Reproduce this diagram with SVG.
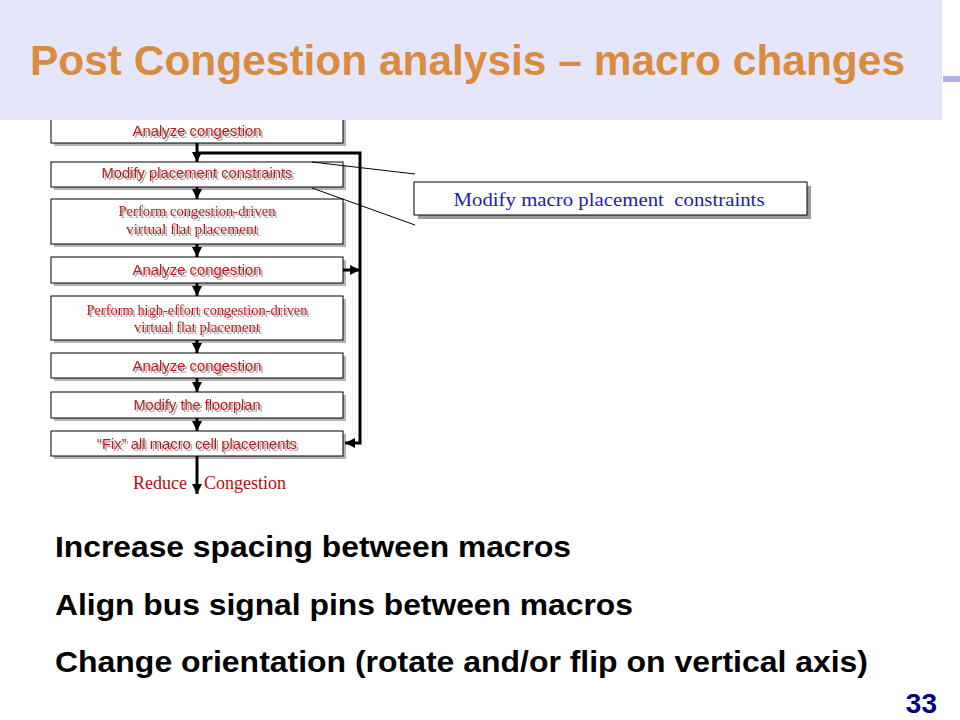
<svg xmlns="http://www.w3.org/2000/svg" width="960" height="720" viewBox="0 0 960 720">
<style>
.box{fill:#ffffff;stroke:#000000;stroke-width:1}
.shd{fill:#b4b4b4}
.t{font-family:"Liberation Sans",Arial,sans-serif;font-size:14.8px;fill:#c01818;text-anchor:middle;filter:url(#tsh)}
.s{font-family:"Liberation Serif","Times New Roman",serif;font-size:14px;fill:#c01818;text-anchor:middle;filter:url(#tsh)}
.arr{stroke:#000000;stroke-width:3;fill:none}
.thin{stroke:#000000;stroke-width:1;fill:none}
.bul{font-family:"Liberation Sans",Arial,sans-serif;font-weight:bold;font-size:30px;fill:#000000}
</style>
<defs>
<marker id="ah" markerUnits="userSpaceOnUse" markerWidth="10" markerHeight="10" viewBox="0 0 10 10" refX="10" refY="5" orient="auto">
<path d="M0,0 L10,5 L0,10 Z" fill="#000000"/>
</marker>
<filter id="tsh" x="-5%" y="-30%" width="110%" height="170%">
<feOffset in="SourceAlpha" dx="2" dy="2" result="o"/>
<feFlood flood-color="#a8a8a8"/>
<feComposite in2="o" operator="in" result="s"/>
<feMerge><feMergeNode in="s"/><feMergeNode in="SourceGraphic"/></feMerge>
</filter>
</defs>
<rect width="960" height="720" fill="#ffffff"/>

<g id="n1">
<rect class="shd" x="54" y="117" width="292" height="29"/>
<rect class="box" x="51" y="114" width="292" height="29"/>
<text class="t" x="197" y="136" textLength="129" lengthAdjust="spacingAndGlyphs">Analyze congestion</text>
</g>
<g id="n2">
<rect class="shd" x="54" y="165" width="292" height="25"/>
<rect class="box" x="51" y="162" width="292" height="25"/>
<text class="t" x="197" y="178" textLength="191" lengthAdjust="spacingAndGlyphs">Modify placement constraints</text>
</g>
<g id="n3">
<rect class="shd" x="54" y="202" width="292" height="45"/>
<rect class="box" x="51" y="199" width="292" height="45"/>
<text class="s" x="197" y="216" textLength="157" lengthAdjust="spacingAndGlyphs">Perform congestion-driven</text>
<text class="s" x="192" y="234" textLength="132" lengthAdjust="spacingAndGlyphs">virtual flat placement</text>
</g>
<g id="n4">
<rect class="shd" x="54" y="260" width="292" height="26"/>
<rect class="box" x="51" y="257" width="292" height="26"/>
<text class="t" x="197" y="275" textLength="129" lengthAdjust="spacingAndGlyphs">Analyze congestion</text>
</g>
<g id="n5">
<rect class="shd" x="54" y="299" width="292" height="44"/>
<rect class="box" x="51" y="296" width="292" height="44"/>
<text class="s" x="197" y="315" textLength="221" lengthAdjust="spacingAndGlyphs">Perform high-effort congestion-driven</text>
<text class="s" x="197" y="332" textLength="126" lengthAdjust="spacingAndGlyphs">virtual flat placement</text>
</g>
<g id="n6">
<rect class="shd" x="54" y="356" width="292" height="25"/>
<rect class="box" x="51" y="353" width="292" height="25"/>
<text class="t" x="197" y="371" textLength="129" lengthAdjust="spacingAndGlyphs">Analyze congestion</text>
</g>
<g id="n7">
<rect class="shd" x="54" y="395" width="292" height="26"/>
<rect class="box" x="51" y="392" width="292" height="26"/>
<text class="t" x="197" y="410" textLength="127" lengthAdjust="spacingAndGlyphs">Modify the floorplan</text>
</g>
<g id="n8">
<rect class="shd" x="54" y="434" width="292" height="25"/>
<rect class="box" x="51" y="431" width="292" height="25"/>
<text class="t" x="197" y="449" textLength="200" lengthAdjust="spacingAndGlyphs">“Fix” all macro cell placements</text>
</g>
<g id="callout">
<rect x="418" y="186" width="393" height="33" fill="#9a9a9a"/>
<rect x="414" y="182" width="393" height="33" fill="#ffffff" stroke="#000000" stroke-width="1"/>
<text x="609" y="206" xml:space="preserve" text-anchor="middle" textLength="311" lengthAdjust="spacingAndGlyphs" style="font-family:'Liberation Serif','Times New Roman',serif;font-size:18px;fill:#1c1cb4">Modify macro placement  constraints</text>
</g>
<g id="label-reduce">
<text style="font-family:'Liberation Serif','Times New Roman',serif;font-size:18px;fill:#b01010" y="489"><tspan x="133">Reduce</tspan> <tspan x="204">Congestion</tspan></text>
</g>

<g id="connectors">
<line class="arr" x1="197" y1="143" x2="197" y2="162" marker-end="url(#ah)"/>
<line class="arr" x1="197" y1="187" x2="197" y2="199" marker-end="url(#ah)"/>
<line class="arr" x1="197" y1="244" x2="197" y2="257" marker-end="url(#ah)"/>
<line class="arr" x1="197" y1="283" x2="197" y2="296" marker-end="url(#ah)"/>
<line class="arr" x1="197" y1="340" x2="197" y2="353" marker-end="url(#ah)"/>
<line class="arr" x1="197" y1="378" x2="197" y2="392" marker-end="url(#ah)"/>
<line class="arr" x1="197" y1="418" x2="197" y2="431" marker-end="url(#ah)"/>
<line class="arr" x1="197" y1="456" x2="197" y2="494" marker-end="url(#ah)"/>
<polyline class="arr" points="197,153 360,153 360,443 345,443" marker-end="url(#ah)"/>
<line class="arr" x1="343" y1="270" x2="360" y2="270" marker-end="url(#ah)"/>
<line class="thin" x1="312" y1="162" x2="415" y2="174"/>
<line class="thin" x1="312" y1="188" x2="415" y2="225"/>
</g>

<g id="header">
<rect x="0" y="0" width="942" height="120" fill="#e6e6fa"/>
<rect x="943" y="76" width="17" height="6" fill="#b0b0f0"/>
<text x="30" y="75" textLength="875" lengthAdjust="spacingAndGlyphs" style="font-family:'Liberation Sans',Arial,sans-serif;font-weight:bold;font-size:42px;fill:#d98c40">Post Congestion analysis – macro changes</text>
</g>

<g id="bullets">
<text class="bul" x="55" y="557" textLength="516" lengthAdjust="spacingAndGlyphs">Increase spacing between macros</text>
<text class="bul" x="55" y="615" textLength="578" lengthAdjust="spacingAndGlyphs">Align bus signal pins between macros</text>
<text class="bul" x="55" y="672" textLength="813" lengthAdjust="spacingAndGlyphs">Change orientation (rotate and/or flip on vertical axis)</text>
</g>
<text x="937" y="713" text-anchor="end" style="font-family:'Liberation Sans',Arial,sans-serif;font-weight:bold;font-size:28px;fill:#000080">33</text>
</svg>
